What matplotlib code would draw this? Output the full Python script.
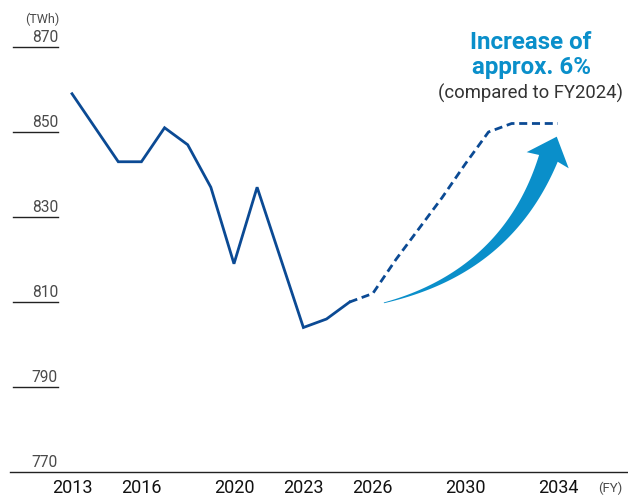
import numpy as np
import matplotlib.pyplot as plt
from matplotlib.patches import Polygon

plt.rcParams['font.family'] = ['Roboto', 'DejaVu Sans']

# actual results (TWh)
years_actual = [2013, 2014, 2015, 2016, 2017, 2018, 2019, 2020, 2021, 2022, 2023, 2024, 2025]
demand_actual = [859, 851, 843, 843, 851, 847, 837, 819, 837, 820.5, 804, 806, 810]

# forecast (TWh)
years_fc = [2025, 2026, 2027, 2028, 2029, 2030, 2031, 2032, 2033, 2034]
demand_fc = [810, 812, 820, 827.3, 834.6, 842.5, 850, 852, 852, 852]

xticks = [2013, 2016, 2020, 2023, 2026, 2030, 2034]
yticks = [770, 790, 810, 830, 850, 870]

line_color = '#0b4a94'
accent = '#0a8fca'

W, H = 628, 498
fig = plt.figure(figsize=(W / 100, H / 100), dpi=100)
ax = fig.add_axes([10 / W, 26 / H, 618 / W, 442 / H])
ax.set_xlim(2010.32, 2037.03)
ax.set_ylim(770, 874)

ax.plot(years_actual, demand_actual, color=line_color, lw=2.0, solid_joinstyle='miter')
ax.plot(years_fc, demand_fc, color=line_color, lw=2.0, linestyle=(0, (2.9, 1.7)),
        dash_joinstyle='round', dash_capstyle='butt')

# axes styling
for s in ['top', 'right', 'left']:
    ax.spines[s].set_visible(False)
ax.spines['bottom'].set_linewidth(1.0)
ax.spines['bottom'].set_color('#222222')
ax.set_yticks([])
ax.set_xticks(xticks)
ax.set_xticklabels([str(x) for x in xticks], fontsize=13, color='#111111')
ax.tick_params(axis='x', length=0, pad=5)

# y labels with short underline
x0, x1 = (13 - 10) / 618, (58 - 10) / 618
ytr = ax.get_yaxis_transform()
for v in yticks:
    if v != 770:
        ax.plot([x0, x1], [v, v], color='#222222', lw=1.0, transform=ytr, clip_on=False)
    ax.text(x1, v + 1.1, str(v), transform=ytr, ha='right', va='baseline',
            fontsize=11.2, color='#4a4a4a')

fig.text(42 / W, 1 - 23 / H, '(TWh)', ha='center', va='baseline', fontsize=9, color='#4a4a4a')
fig.text(610 / W, 1 - 492 / H, '(FY)', ha='center', va='baseline', fontsize=9.5, color='#4a4a4a')

# annotation text
fig.text(531 / W, 1 - 49 / H, 'Increase of', ha='center', va='baseline',
         fontsize=17.4, fontweight='bold', color=accent)
fig.text(531 / W, 1 - 73.5 / H, 'approx. 6%', ha='center', va='baseline',
         fontsize=17.4, fontweight='bold', color=accent)
fig.text(530.5 / W, 1 - 99 / H, '(compared to FY2024)', ha='center', va='baseline',
         fontsize=13.3, color='#333333')

# curved tapered arrow, anchored in data space, built in display space
fig.canvas.draw()
tr = ax.transData
p0 = tr.transform((2026.48, 809.8))
pc = tr.transform((2031.8, 817.1))
p2 = tr.transform((2033.59, 843.8))
tip = tr.transform((2033.95, 848.9))

t = np.linspace(0, 1, 80)[:, None]
pts = (1 - t) ** 2 * p0 + 2 * (1 - t) * t * pc + t ** 2 * p2
der = 2 * (1 - t) * (pc - p0) + 2 * t * (p2 - pc)
nrm = np.column_stack([-der[:, 1], der[:, 0]])
nrm /= np.linalg.norm(nrm, axis=1)[:, None]
w = (0.4 + 9.5 * t[:, 0] ** 1.2)[:, None]
left = pts + nrm * w
right = pts - nrm * w
dirn = (tip - p2) / np.linalg.norm(tip - p2)
perp = np.array([-dirn[1], dirn[0]])
hl = p2 + perp * 22.5 - dirn * 2
hr = p2 - perp * 22.5 - dirn * 2
poly_disp = np.vstack([left, [hl], [tip], [hr], right[::-1]])
poly = tr.inverted().transform(poly_disp)
ax.add_patch(Polygon(poly, closed=True, facecolor=accent, edgecolor='none', clip_on=False))

fig.savefig('out.png', dpi=100)
